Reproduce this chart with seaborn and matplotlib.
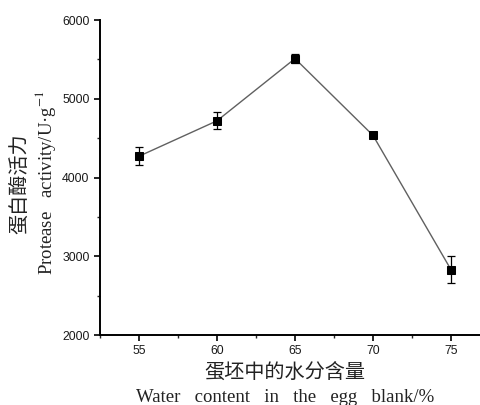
import matplotlib
matplotlib.use("Agg")
import matplotlib.pyplot as plt
import seaborn as sns
import pandas as pd
from matplotlib.ticker import MultipleLocator

# values
water_content = [55, 60, 65, 70, 75]
activity = [4270, 4720, 5510, 4535, 2830]
activity_err = [115, 110, 55, 20, 175]

df = pd.DataFrame({"water": water_content, "activity": activity, "err": activity_err})

sns.set_theme(style="ticks")
plt.rcParams["mathtext.fontset"] = "stix"

fig = plt.figure(figsize=(4.8, 4.05), dpi=100)
ax = fig.add_axes([0.2083, 0.1728, 0.7917, 0.7778])

sns.lineplot(data=df, x="water", y="activity", ax=ax, color="#606060",
             linewidth=1.0, marker="s", markersize=5.5, markerfacecolor="black",
             markeredgecolor="black", zorder=3)
ax.errorbar(df["water"], df["activity"], yerr=df["err"], fmt="none",
            ecolor="black", elinewidth=0.9, capsize=3, capthick=0.9, zorder=4)

ax.set_xlim(52.5, 76.86)
ax.set_ylim(2000, 6000)
ax.xaxis.set_major_locator(MultipleLocator(5))
ax.xaxis.set_minor_locator(MultipleLocator(2.5))
ax.yaxis.set_major_locator(MultipleLocator(1000))
ax.yaxis.set_minor_locator(MultipleLocator(500))
ax.tick_params(axis="both", which="major", direction="out", length=4, width=1.2,
               labelsize=8.8, colors="black", labelcolor="#1a1a1a")
ax.tick_params(axis="both", which="minor", direction="out", length=2.5, width=1.0)
for lab in ax.get_xticklabels() + ax.get_yticklabels():
    lab.set_fontfamily("Liberation Sans")

sns.despine(ax=ax)
for side in ["left", "bottom"]:
    ax.spines[side].set_linewidth(1.4)
    ax.spines[side].set_color("black")

ax.set_xlabel("")
ax.set_ylabel("")

# two-line axis titles (Chinese + English)
fig.text(285 / 480, 1 - 372 / 405, "蛋坯中的水分含量", ha="center", va="center",
         fontsize=14.5, family=["Noto Sans CJK SC"], fontweight=200, color="#222222")
fig.text(285 / 480, 1 - 397 / 405, "Water   content   in   the   egg   blank/%", ha="center",
         va="center", fontsize=13.5, family=["Liberation Serif"], color="#222222")
fig.text(20 / 480, 1 - 184 / 405, "蛋白酶活力", ha="center", va="center", rotation=90,
         fontsize=14.5, family=["Noto Sans CJK SC"], fontweight=200, color="#222222")
fig.text(46 / 480, 1 - 183 / 405, "Protease   activity/U·g$^{-1}$", ha="center",
         va="center", rotation=90, fontsize=13.5, family=["Liberation Serif"], color="#222222")

fig.savefig("out.png", dpi=100, facecolor="white")
